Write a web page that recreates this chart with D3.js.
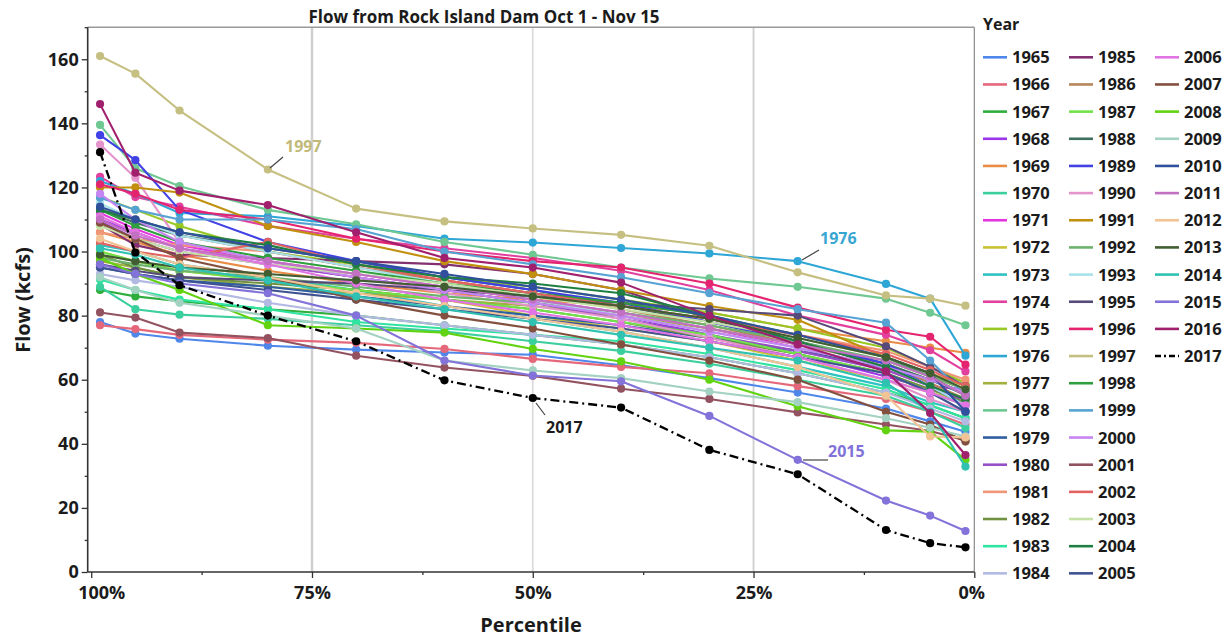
<!DOCTYPE html>
<html>
<head>
<meta charset="utf-8">
<script src="https://cdn.jsdelivr.net/npm/d3@7"></script>
<style>
  html, body { margin: 0; padding: 0; background: #fff; }
  svg { display: block; }
  text { font-family: "Open Sans", "Noto Sans", sans-serif; font-weight: 700; }
</style>
</head>
<body>
<svg id="chart" width="1232" height="639"></svg>
<script>
// ---------- DATA ----------
const percentiles = [99, 95, 90, 80, 70, 60, 50, 40, 30, 20, 10, 5, 1];
const xTicks = [100, 75, 50, 25, 0];
const xMinorTicks = [87.5, 62.5, 37.5, 12.5];
const yTicks = [0, 20, 40, 60, 80, 100, 120, 140, 160];
const yMinorTicks = [10, 30, 50, 70, 90, 110, 130, 150, 170];

const years = [
  1965, 1966, 1967, 1968, 1969, 1970, 1971, 1972, 1973, 1974,
  1975, 1976, 1977, 1978, 1979, 1980, 1981, 1982, 1983, 1984,
  1985, 1986, 1987, 1988, 1989, 1990, 1991, 1992, 1993, 1995,
  1996, 1997, 1998, 1999, 2000, 2001, 2002, 2003, 2004, 2005,
  2006, 2007, 2008, 2009, 2010, 2011, 2012, 2013, 2014, 2015,
  2016, 2017
];

const palette = [
  "#4f86ea", "#e4687a", "#2fae3e", "#9a34e6", "#e98d46", "#3ccf9e", "#e436e0", "#c9c233", "#2ec2c2", "#e2409e",
  "#97c823", "#2ea6d6", "#a2b03f", "#6fc891", "#2f5f9f", "#9650c4", "#f09576", "#6f9140", "#2fe3a0", "#b2b9e2",
  "#82306f", "#b5865a", "#72e24a", "#3f6f5f", "#4141e6", "#e493cc", "#c1900f", "#6db36e", "#a8e1ea", "#564a7a",
  "#e5246f", "#c6bf82", "#2f9f3d", "#56a3d3", "#c585f2", "#93525f", "#e36262", "#c5e2a6", "#1f7f42", "#3f5393",
  "#e273e2", "#83503f", "#62d310", "#a3d1c2", "#30509e", "#c271c2", "#f2c394", "#405e31", "#2fc1b1", "#8272d9",
  "#a1206e", "#000000"
];

// flow (kcfs) at each percentile, one row per year (same order as years)
const flows = [
  [78.0, 74.4, 72.8, 70.6, 69.4, 68.5, 67.8, 64.5, 60.5, 56.0, 51.0, 47.0, 43.8], // 1965
  [77.0, 75.8, 74.0, 72.5, 71.5, 69.6, 66.5, 64.0, 62.0, 58.0, 54.0, 50.0, 46.0], // 1966
  [88.0, 86.0, 84.5, 82.0, 80.0, 77.0, 74.0, 71.0, 67.0, 62.0, 56.0, 52.0, 48.0], // 1967
  [110.0, 106.0, 101.0, 96.0, 92.0, 88.0, 84.0, 80.0, 74.0, 68.0, 61.0, 57.0, 53.7], // 1968
  [106.0, 103.0, 99.0, 94.0, 90.0, 87.0, 85.0, 83.0, 81.0, 76.0, 72.0, 70.0, 68.4], // 1969
  [89.0, 82.0, 80.3, 79.0, 77.0, 75.0, 72.0, 69.0, 65.0, 60.0, 55.0, 50.0, 45.0], // 1970
  [112.0, 107.0, 102.0, 97.0, 93.0, 89.0, 85.0, 81.0, 76.0, 70.0, 63.0, 58.0, 56.9], // 1971
  [100.0, 97.0, 94.0, 91.0, 88.0, 85.0, 80.0, 76.0, 72.0, 66.0, 60.0, 56.0, 53.0], // 1972
  [102.0, 100.0, 96.0, 92.0, 88.0, 83.0, 79.0, 75.0, 70.0, 64.0, 58.0, 53.0, 50.0], // 1973
  [123.3, 117.0, 114.0, 108.0, 104.0, 101.0, 98.0, 94.0, 88.0, 80.0, 74.0, 69.2, 62.6], // 1974
  [117.0, 113.0, 108.0, 100.0, 96.0, 92.0, 89.0, 85.0, 81.0, 76.0, 70.0, 64.0, 59.0], // 1975
  [122.0, 118.0, 112.0, 111.0, 108.0, 104.0, 102.8, 101.1, 99.4, 97.0, 89.9, 85.3, 67.5], // 1976
  [97.0, 95.0, 92.0, 89.0, 87.0, 85.0, 83.0, 80.0, 76.0, 71.0, 66.0, 61.0, 57.0], // 1977
  [139.5, 126.0, 120.4, 113.0, 108.5, 103.0, 99.0, 95.0, 91.6, 89.0, 85.3, 80.9, 77.0], // 1978
  [95.0, 93.0, 91.0, 89.0, 86.0, 83.0, 80.0, 77.0, 73.0, 69.0, 64.0, 60.0, 55.3], // 1979
  [109.5, 104.0, 100.0, 96.0, 92.0, 88.0, 84.0, 79.0, 74.0, 69.0, 63.0, 58.0, 52.0], // 1980
  [106.0, 104.0, 102.0, 100.0, 95.0, 91.0, 87.0, 83.0, 79.0, 74.0, 69.0, 64.0, 60.0], // 1981
  [99.0, 95.0, 92.0, 90.0, 88.0, 85.0, 82.0, 78.0, 73.0, 68.0, 62.0, 57.0, 53.0], // 1982
  [91.3, 88.0, 85.0, 82.0, 78.0, 76.0, 74.0, 72.0, 68.0, 63.0, 57.0, 52.0, 48.0], // 1983
  [93.0, 91.0, 89.0, 84.0, 80.0, 77.0, 74.0, 71.0, 67.0, 62.0, 56.0, 51.0, 47.0], // 1984
  [108.5, 102.0, 99.0, 98.0, 97.0, 96.0, 93.0, 88.0, 79.0, 72.0, 64.0, 58.0, 54.0], // 1985
  [113.0, 110.0, 105.0, 100.0, 95.0, 91.0, 87.0, 82.0, 77.0, 71.0, 65.0, 59.0, 54.0], // 1986
  [100.0, 97.0, 94.0, 91.0, 88.0, 85.0, 82.0, 78.0, 74.0, 68.0, 62.0, 56.0, 52.0], // 1987
  [113.0, 109.0, 105.0, 101.0, 97.0, 92.0, 88.0, 83.0, 78.0, 72.0, 65.0, 60.0, 56.0], // 1988
  [136.3, 128.5, 113.0, 103.0, 97.0, 92.0, 88.0, 84.0, 78.0, 72.0, 65.0, 58.0, 52.0], // 1989
  [133.4, 123.0, 102.8, 97.0, 92.0, 87.0, 83.0, 79.0, 73.0, 67.0, 60.0, 54.0, 50.0], // 1990
  [120.0, 120.0, 118.4, 108.0, 103.0, 97.0, 93.0, 88.0, 83.0, 78.7, 67.0, 62.0, 58.0], // 1991
  [98.0, 96.0, 94.0, 92.0, 89.0, 86.0, 84.0, 81.0, 77.0, 72.0, 66.0, 61.0, 57.0], // 1992
  [115.0, 110.0, 105.0, 100.0, 95.0, 90.0, 85.0, 80.0, 75.0, 70.0, 64.0, 58.0, 52.0], // 1993
  [96.0, 94.0, 92.0, 91.0, 90.0, 88.0, 86.0, 84.0, 82.0, 80.0, 70.4, 64.0, 58.0], // 1995
  [121.0, 118.0, 113.0, 110.0, 104.0, 100.0, 97.0, 95.0, 90.0, 82.5, 75.6, 73.4, 64.7], // 1996
  [161.0, 155.5, 144.0, 125.6, 113.4, 109.4, 107.2, 105.2, 101.8, 93.5, 86.3, 85.3, 83.1], // 1997
  [113.0, 108.0, 103.0, 98.0, 94.0, 90.0, 87.0, 84.0, 80.0, 74.0, 67.0, 61.0, 55.0], // 1998
  [116.8, 113.0, 110.0, 110.0, 107.0, 100.0, 96.0, 92.0, 87.0, 82.0, 77.8, 66.0, 55.0], // 1999
  [118.0, 110.0, 103.0, 97.0, 92.0, 88.0, 84.0, 80.0, 75.0, 70.0, 64.0, 60.0, 56.0], // 2000
  [81.0, 79.4, 74.7, 73.0, 67.5, 63.8, 61.2, 57.2, 54.0, 49.8, 46.0, 44.0, 41.0], // 2001
  [102.7, 100.0, 98.0, 103.0, 96.0, 91.0, 87.0, 83.0, 79.0, 74.0, 68.0, 63.0, 58.0], // 2002
  [108.0, 104.0, 100.0, 96.0, 93.0, 90.0, 86.0, 82.0, 78.0, 73.0, 67.0, 62.0, 57.0], // 2003
  [113.0, 110.0, 106.0, 102.0, 96.0, 92.0, 90.0, 87.0, 80.0, 72.0, 64.0, 58.0, 54.0], // 2004
  [95.0, 93.0, 91.0, 88.0, 85.0, 82.0, 79.0, 76.0, 72.0, 67.0, 62.0, 56.0, 50.0], // 2005
  [111.0, 106.0, 101.0, 96.0, 90.0, 85.0, 81.0, 77.0, 72.0, 67.0, 60.0, 56.0, 52.0], // 2006
  [109.0, 104.0, 98.0, 92.0, 85.0, 80.0, 76.0, 71.0, 66.0, 60.0, 50.0, 46.0, 40.7], // 2007
  [98.0, 93.0, 88.0, 77.0, 76.0, 74.7, 69.6, 65.7, 60.0, 51.7, 44.2, 43.8, 35.0], // 2008
  [92.0, 88.0, 84.0, 80.0, 76.0, 66.0, 62.9, 60.5, 56.3, 53.0, 48.0, 45.0, 42.3], // 2009
  [114.0, 110.0, 106.0, 101.0, 97.0, 93.0, 89.0, 85.0, 80.0, 74.0, 67.0, 62.0, 50.1], // 2010
  [110.0, 105.0, 101.0, 97.0, 93.0, 89.0, 85.0, 81.0, 76.0, 71.0, 66.0, 61.0, 55.0], // 2011
  [104.0, 100.0, 96.0, 92.0, 87.0, 83.0, 79.0, 75.0, 70.0, 64.0, 55.0, 42.3, 42.0], // 2012
  [99.0, 97.0, 95.0, 93.0, 91.0, 89.0, 86.0, 83.0, 79.0, 73.0, 67.0, 62.0, 57.0], // 2013
  [101.0, 99.0, 95.0, 91.0, 86.0, 82.0, 78.0, 74.0, 70.0, 66.0, 59.0, 50.0, 32.9], // 2014
  [96.0, 93.0, 90.0, 87.0, 80.0, 66.0, 61.3, 59.5, 48.7, 35.0, 22.3, 17.6, 12.8], // 2015
  [146.0, 124.6, 119.0, 114.5, 106.0, 98.0, 95.0, 90.3, 80.0, 71.0, 62.6, 49.6, 36.5], // 2016
  [131.0, 99.7, 89.5, 80.0, 72.0, 59.8, 54.3, 51.3, 38.1, 30.5, 13.1, 9.0, 7.7]   // 2017
];

const title = "Flow from Rock Island Dam Oct 1 - Nov 15";
const annotations = [
  { year: 1997, pct: 80, text: "1997" },
  { year: 1976, pct: 20, text: "1976" },
  { year: 2015, pct: 20, text: "2015" },
  { year: 2017, pct: 50, text: "2017" }
];

// ---------- LAYOUT ----------
const svg = d3.select("#chart");
const pLeft = 87.7, pRight = 974.3, pBottom = 572, pTop = 27.2;
const x = d3.scaleLinear().domain([100.4, 0]).range([pLeft, pRight]);
const y = d3.scaleLinear().domain([0, 170]).range([pBottom, pTop]);
const textColor = "#1b1b1b";

// vertical grid lines
svg.append("g").selectAll("line").data([75, 50, 25]).join("line")
  .attr("x1", d => x(d)).attr("x2", d => x(d))
  .attr("y1", pTop).attr("y2", pBottom)
  .attr("stroke", d => d === 50 ? "#dcdcdc" : "#cfcfcf")
  .attr("stroke-width", d => d === 75 ? 2.5 : 1.8);

// frame lines (top and right)
svg.append("line").attr("x1", pLeft).attr("x2", pRight).attr("y1", pTop).attr("y2", pTop)
  .attr("stroke", "#9a9a9a").attr("stroke-width", 1.4);
svg.append("line").attr("x1", pRight).attr("x2", pRight).attr("y1", pTop).attr("y2", pBottom)
  .attr("stroke", "#8a8a8a").attr("stroke-width", 1.2);

// series
const line = d3.line().x((d, i) => x(percentiles[i])).y(d => y(d));
const series = years.map((yr, i) => ({ year: yr, color: palette[i], values: flows[i] }));

const gSeries = svg.append("g");
series.forEach(s => {
  const g = gSeries.append("g");
  g.append("path").attr("d", line(s.values))
    .attr("fill", "none").attr("stroke", s.color)
    .attr("stroke-width", s.year === 2017 ? 2.3 : 2.1)
    .attr("stroke-dasharray", s.year === 2017 ? "9,4,2,4" : null)
    .attr("stroke-linejoin", "round");
  g.selectAll("circle").data(s.values).join("circle")
    .attr("cx", (d, i) => x(percentiles[i])).attr("cy", d => y(d))
    .attr("r", 4.1).attr("fill", s.color);
});

// axes
const axisColor = "#333";
const gy = svg.append("g").attr("transform", `translate(${pLeft},0)`)
  .call(d3.axisLeft(y).tickValues(yTicks).tickSize(6).tickPadding(3));
const gyMinor = svg.append("g").attr("transform", `translate(${pLeft},0)`)
  .call(d3.axisLeft(y).tickValues(yMinorTicks).tickSize(3).tickFormat(""));
const gx = svg.append("g").attr("transform", `translate(0,${pBottom})`)
  .call(d3.axisBottom(x).tickValues(xTicks).tickSize(6).tickPadding(8).tickFormat(d => d + "%"));
const gxMinor = svg.append("g").attr("transform", `translate(0,${pBottom})`)
  .call(d3.axisBottom(x).tickValues(xMinorTicks).tickSize(3).tickFormat(""));

[gy, gyMinor, gx, gxMinor].forEach(g => {
  g.select(".domain").attr("stroke", axisColor).attr("stroke-width", 1.6);
  g.selectAll(".tick line").attr("stroke", axisColor).attr("stroke-width", 1.3);
});
gyMinor.select(".domain").remove();
gxMinor.select(".domain").remove();
gy.select(".domain").attr("d", `M0,${pTop}V${pBottom}`);
gx.select(".domain").attr("d", `M${pLeft},0H${pRight}`);
gy.selectAll(".tick text").attr("fill", textColor).style("font-size", "18px").style("font-weight", 700)
  .style("font-family", '"Open Sans", sans-serif');
gx.selectAll(".tick text").attr("fill", textColor).style("font-size", "18px").style("font-weight", 700)
  .style("font-family", '"Open Sans", sans-serif')
  .attr("dx", d => d === 100 ? 10 : (d === 0 ? -3 : 0));

// titles
svg.append("text").attr("x", 484).attr("y", 22.5).attr("text-anchor", "middle")
  .attr("fill", textColor).style("font-size", "17px").text(title);
svg.append("text").attr("x", (pLeft + pRight) / 2).attr("y", 632).attr("text-anchor", "middle")
  .attr("fill", textColor).style("font-size", "20px").text("Percentile");
svg.append("text").attr("transform", "translate(30,300) rotate(-90)").attr("text-anchor", "middle")
  .attr("fill", textColor).style("font-size", "20px").text("Flow (kcfs)");

// annotations
const annoLayout = {
  1997: { tx: 285, ty: 152, lx1: 283, ly1: 157, lx2: 270, ly2: 168, color: "#c0b978" },
  1976: { tx: 820, ty: 244, lx1: 819, ly1: 250, lx2: 802, ly2: 260, color: "#38a6d2" },
  2015: { tx: 828, ty: 457, lx1: 828, ly1: 460, lx2: 803, ly2: 460, color: "#8072d9" },
  2017: { tx: 546, ty: 433, lx1: 545, ly1: 415, lx2: 536, ly2: 403, color: "#1b1b1b" }
};
annotations.forEach(a => {
  const L = annoLayout[a.year];
  svg.append("line").attr("x1", L.lx1).attr("y1", L.ly1).attr("x2", L.lx2).attr("y2", L.ly2)
    .attr("stroke", "#444").attr("stroke-width", 1.2);
  svg.append("text").attr("x", L.tx).attr("y", L.ty)
    .attr("fill", L.color).style("font-size", "16px").text(a.text);
});

// legend
const legend = svg.append("g");
legend.append("text").attr("x", 983).attr("y", 30).attr("fill", textColor)
  .style("font-size", "16px").text("Year");
const colX = [983, 1069, 1155];
const rowY0 = 57.3, rowH = 27.16, perCol = 20;
series.forEach((s, i) => {
  const c = Math.floor(i / perCol), r = i % perCol;
  const lx = colX[c], ly = rowY0 + r * rowH;
  legend.append("line").attr("x1", lx).attr("x2", lx + 24).attr("y1", ly).attr("y2", ly)
    .attr("stroke", s.color).attr("stroke-width", 2.6)
    .attr("stroke-dasharray", s.year === 2017 ? "6,3,2,3" : null);
  legend.append("text").attr("x", lx + 29).attr("y", ly + 6).attr("fill", textColor)
    .style("font-size", "16.5px").text(s.year);
});
</script>
</body>
</html>
